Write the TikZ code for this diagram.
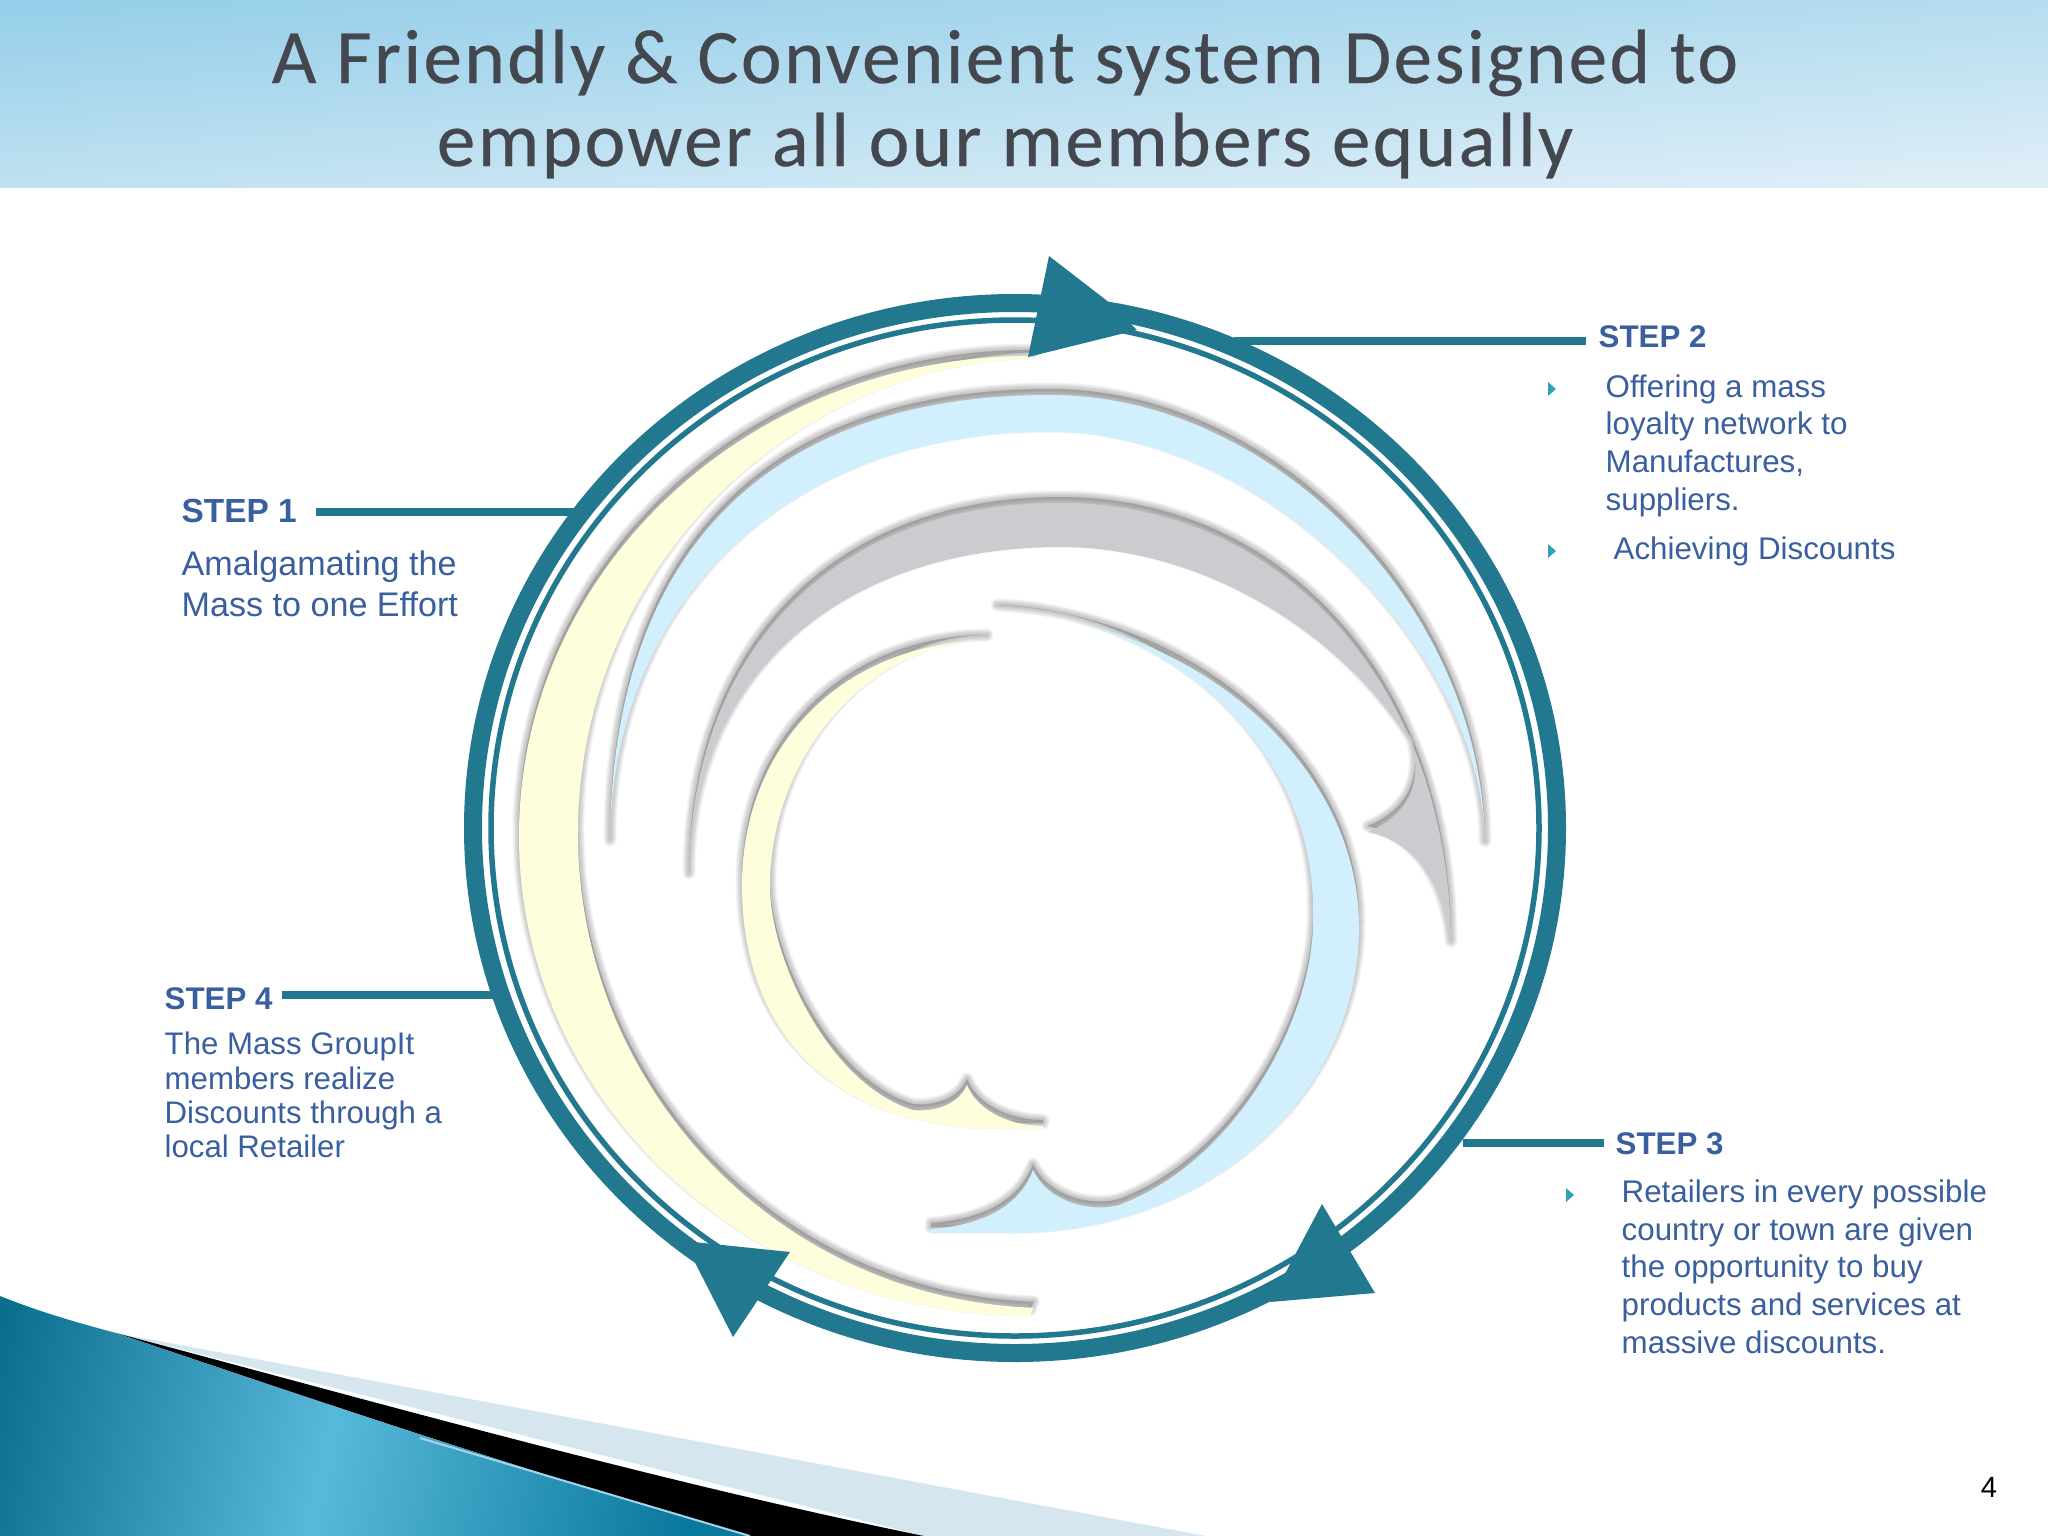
\documentclass[tikz,border=0pt]{standalone}
\usepackage{fontspec}
\setmainfont{Liberation Sans}
\newfontfamily\titlefont[LetterSpace=3.2,FakeBold=0.4]{Carlito}
\definecolor{teal1}{HTML}{22788F}
\definecolor{txtblue}{HTML}{3A5F9E}
\definecolor{bul}{HTML}{2DA5B8}
\definecolor{paley}{HTML}{FEFEDC}
\definecolor{paleb}{HTML}{D1EFFC}
\definecolor{paleg}{HTML}{CDCBCF}
\definecolor{shad}{HTML}{505050}
\definecolor{headtop}{RGB}{150,207,233}
\definecolor{headbot}{RGB}{222,238,247}
\definecolor{titlec}{RGB}{68,72,78}
\definecolor{wedgel}{RGB}{214,230,240}
\definecolor{wa}{RGB}{6,104,136}
\definecolor{wb}{RGB}{88,185,218}
\definecolor{wc}{RGB}{8,120,156}
\definecolor{wline}{RGB}{165,212,230}
\newcommand\swoosh[2]{%
  \foreach \lw in {0.13,0.11,0.09,0.07,0.05,0.03}{%
    \path[shift={(0,-6)},fill=shad,draw=shad,line width=\lw cm,opacity=.06,line join=round] #2;}
  \fill[#1] #2;}
\tikzset{
  stephead/.style={anchor=base west,inner sep=0pt,text=txtblue,font=\bfseries\fontsize{8.9}{10.7}\selectfont},
  body/.style={anchor=base west,inner sep=0pt,text=txtblue,align=left,font=\fontsize{8.9}{10.67}\selectfont},
  conn/.style={draw=teal1,line width=0.08cm},
  bullet/.style={fill=bul},
  arrowtri/.style={fill=teal1}
}
\begin{document}
\begin{tikzpicture}[x=0.01cm,y=-0.01cm]
\useasboundingbox (0,0) rectangle (2048,1536);
\fill[white] (0,0) rectangle (2048,1536);
% header
\shade[top color=headtop,bottom color=headbot,shading angle=4] (0,0) rectangle (2048,187);
\node[anchor=base,inner sep=0pt,text=titlec,align=center,font=\titlefont\fontsize{21.9}{23.6}\selectfont] (title) at (1005,166) {A Friendly \& Convenient system Designed to\\empower all our members equally};
% bottom-left wedges
\fill[wedgel] (116,1333) -- (1206,1536) -- (924,1536) -- cycle;
\fill[black] (116,1333) .. controls (350,1395) and (650,1480) .. (924,1536) -- (750,1536) .. controls (520,1470) and (300,1395) .. (116,1333) -- cycle;
\begin{scope}
\clip (0,1296) .. controls (40,1312) and (75,1322) .. (116,1333) .. controls (300,1395) and (520,1470) .. (750,1536) -- (0,1536) -- cycle;
\shade[left color=wa,right color=wc,middle color=wb,shading angle=78] (-90,1290) rectangle (760,1540);
\end{scope}
\draw[wline,line width=0.02cm] (420,1438) -- (750,1536);
% swooshes
\swoosh{paley}{(1030,356) arc[start angle=270,end angle=90,x radius=511,y radius=480] -- (1033.5,1307.7) arc[start angle=92,end angle=268,x radius=472,y radius=475] -- cycle}
\swoosh{paleb}{(610,846) .. controls (610,550) and (770,395) .. (1050,395) .. controls (1276,395) and (1485,611) .. (1485,847) .. controls (1485,650) and (1263,432) .. (1050,432) .. controls (790,432) and (610,600) .. (610,846) -- cycle}
\swoosh{paleg}{(689,879) .. controls (689,650) and (835,503) .. (1060,503) .. controls (1287,503) and (1451,690) .. (1451,947) .. controls (1445,880) and (1410,840) .. (1368,832) .. controls (1410,815) and (1422,780) .. (1412,745) .. controls (1340,630) and (1200,547) .. (1060,547) .. controls (840,547) and (689,680) .. (689,879) -- cycle}
\swoosh{paley}{(987,641) .. controls (850,641) and (742,740) .. (742,885) .. controls (742,1040) and (840,1129) .. (1000,1129) -- (1043,1129) -- (1043,1126) .. controls (1000,1125) and (975,1105) .. (967,1085) .. controls (958,1105) and (935,1112) .. (913,1110) .. controls (830,1085) and (770,960) .. (770,886) .. controls (770,755) and (870,641) .. (987,641) -- cycle}
\swoosh{paleb}{(997,611) .. controls (1190,620) and (1359,760) .. (1359,927) .. controls (1359,1100) and (1200,1240) .. (1000,1233) -- (931,1233) -- (931,1229) .. controls (985,1225) and (1020,1205) .. (1033,1170) .. controls (1050,1205) and (1095,1212) .. (1119,1205) .. controls (1240,1160) and (1318,1010) .. (1313,910) .. controls (1313,740) and (1160,615) .. (997,611) -- cycle}
% ring
\draw[teal1,line width=0.18cm] (1015,828) ellipse [x radius=542,y radius=525];
\draw[teal1,line width=0.055cm] (1015,828) ellipse [x radius=524,y radius=508];
% arrowheads
\fill[arrowtri] (1049,256) -- (1106,300) -- (1137,330) -- (1028,357) -- cycle;
\fill[arrowtri] (1322,1204) -- (1375,1293) -- (1270,1302) -- cycle;
\fill[arrowtri] (684,1241) -- (790,1252) -- (733,1337) -- cycle;
% step labels
\node[stephead,font=\bfseries\fontsize{9.5}{11}\selectfont] (s1) at (181,522) {STEP 1};
\node[body,font=\fontsize{9.7}{11.5}\selectfont] (t1) at (181,616) {Amalgamating the\\Mass to one Effort};
\node[stephead] (s2) at (1598,347) {STEP 2};
\node[body] (t2) at (1605,510) {Offering a mass\\loyalty network to\\Manufactures,\\suppliers.};
\node[body] (t2b) at (1613,559) {Achieving Discounts};
\node[stephead] (s3) at (1615,1154) {STEP 3};
\node[body] (t3) at (1621,1353) {Retailers in every possible\\country or town are given\\the opportunity to buy\\products and services at\\massive discounts.};
\node[stephead] (s4) at (164,1009) {STEP 4};
\node[body,font=\fontsize{8.87}{9.67}\selectfont] (t4) at (164,1157) {The Mass GroupIt\\members realize\\Discounts through a\\local Retailer};
\node[anchor=base,inner sep=0pt,font=\fontsize{8.3}{10}\selectfont] (pg) at (1989,1497) {4};
% bullets
\fill[bullet] (1548,382) -- (1556,389) -- (1548,396) -- cycle;
\fill[bullet] (1548,544) -- (1556,551) -- (1548,558) -- cycle;
\fill[bullet] (1566,1188) -- (1574,1195) -- (1566,1202) -- cycle;
% connectors
\coordinate (c1a) at (316,512); \coordinate (c1b) at (575,512);
\coordinate (c2a) at (1586,341); \coordinate (c2b) at (1234,341);
\coordinate (c3a) at (1604,1143); \coordinate (c3b) at (1463,1143);
\coordinate (c4a) at (282,995); \coordinate (c4b) at (498,995);
\draw[conn] (c1a) -- (c1b);
\draw[conn] (c2a) -- (c2b);
\draw[conn] (c3a) -- (c3b);
\draw[conn] (c4a) -- (c4b);
\end{tikzpicture}
\end{document}
